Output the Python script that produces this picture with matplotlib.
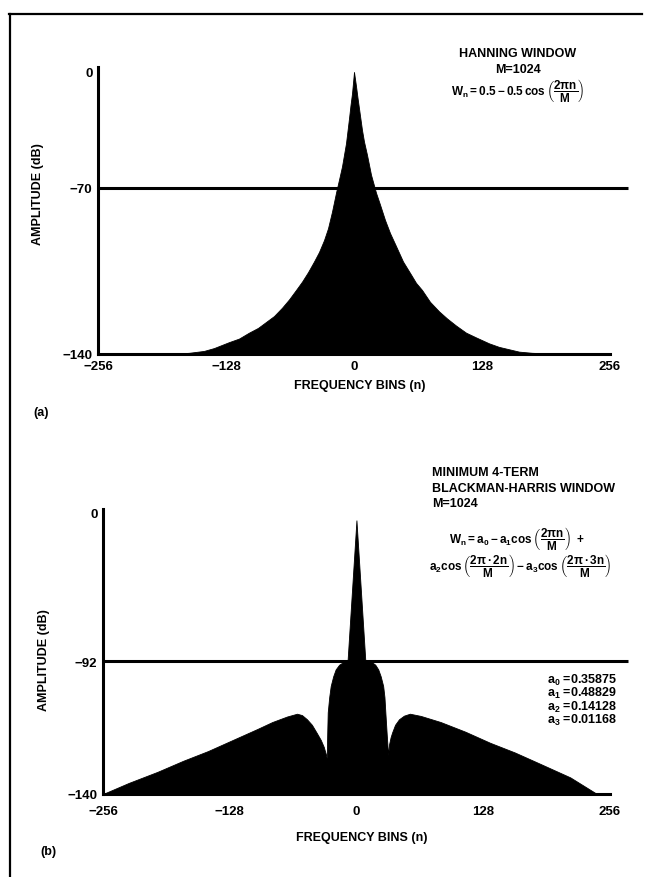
import numpy as np
import matplotlib
matplotlib.use("Agg")
import matplotlib.pyplot as plt
from matplotlib.lines import Line2D
from matplotlib.scale import FuncScale

# ---------------- data ----------------
hann_bins = [-256, -185, -165, -150, -140, -125, -115, -105, -96, -88, -80, -72, -65, -58,
             -52, -46, -40, -35, -30, -26, -22, -18, -15, -12, -10, -8, -5, -3.5, -2, 0,
             2, 3.5, 5, 8, 10, 13, 17, 22, 26, 31, 36, 42, 49, 57, 62, 68, 76, 85, 93,
             102, 112, 122, 135, 145, 155, 165, 178, 210, 256]
hann_db = [-140, -140, -139.5, -138.7, -137.5, -135, -133.5, -131, -129, -126.5, -124, -120.5, -117, -113,
           -109.5, -105.5, -101, -97, -92, -87, -80, -72, -65, -57, -50, -43, -28, -20, -13, 0,
           -8.5, -15.5, -22, -35, -42, -50, -62, -72, -77, -83.5, -89, -94.5, -101, -106.5, -110, -113, -118, -122, -125,
           -128, -131, -133, -135.5, -137, -138, -139, -139.5, -140, -140]
hann_threshold = -70

bh_bins = [-256, -230, -201, -175, -150, -125, -100, -85, -70, -60, -55, -50, -45, -40, -36, -33, -31, -30,
           -29.5, -29, -27.5, -26, -23.5, -21, -17.5, -14, -9,
           0,
           9, 16, 19, 22, 24.5, 27, 28.3, 29.2, 30.5, 32,
           33, 34.5, 36, 39, 43, 48, 54, 65, 85, 110, 135, 160, 185, 216, 243, 256]
bh_db = [-140, -136, -132, -128, -124.5, -120.5, -116.5, -114, -112, -111, -111.5, -113, -115, -118, -120.5, -123, -125.5, -127,
         -118, -110.5, -105, -101, -97.5, -95, -93.3, -92.5, -92,
         -5,
         -92, -92.5, -93.3, -95, -97.5, -101, -105, -110.5, -118, -126,
         -122, -119.5, -117.8, -115, -113, -111.7, -111, -111.8, -114, -117.5, -121.5, -125, -129, -134, -140, -140]
bh_threshold = -92

x_ticks = [-256, -128, 0, 128, 256]
x_tick_labels = ["\u2212256", "\u2212128", "0", "128", "256"]
hann_yticks = [0, -70, -140]
hann_ytick_labels = ["0", "\u221270", "\u2212140"]
bh_yticks = [0, -92, -140]
bh_ytick_labels = ["0", "\u221292", "\u2212140"]

coef_names = ["a_0", "a_1", "a_2", "a_3"]
coef_values = ["0.35875", "0.48829", "0.14128", "0.01168"]

# ---------------- style ----------------
plt.rcParams['font.family'] = ['Liberation Sans', 'DejaVu Sans']
plt.rcParams['font.weight'] = 'bold'
plt.rcParams['mathtext.fontset'] = 'custom'
plt.rcParams['mathtext.rm'] = 'Liberation Sans:bold'
plt.rcParams['mathtext.it'] = 'Liberation Sans:bold'
plt.rcParams['mathtext.bf'] = 'Liberation Sans:bold'
plt.rcParams['mathtext.sf'] = 'Liberation Sans:bold'
plt.rcParams['mathtext.default'] = 'rm'

W, H = 652, 878
fig = plt.figure(figsize=(W / 100, H / 100), dpi=100)
fig.patch.set_facecolor('white')


def fx(x):
    return x / W


def fy(y):
    return 1 - y / H


def piecewise_scale(knots_db, knots_u):
    kd = np.asarray(knots_db, float)
    ku = np.asarray(knots_u, float)
    s0 = (ku[1] - ku[0]) / (kd[1] - kd[0])
    s1 = (ku[-1] - ku[-2]) / (kd[-1] - kd[-2])

    def fwd(v):
        v = np.asarray(v, float)
        out = np.interp(v, kd, ku)
        out = np.where(v < kd[0], ku[0] + (v - kd[0]) * s0, out)
        out = np.where(v > kd[-1], ku[-1] + (v - kd[-1]) * s1, out)
        return out

    def inv(u):
        u = np.asarray(u, float)
        out = np.interp(u, ku, kd)
        out = np.where(u < ku[0], kd[0] + (u - ku[0]) / s0, out)
        out = np.where(u > ku[-1], kd[-1] + (u - ku[-1]) / s1, out)
        return out

    return fwd, inv


def make_panel(left_px, top_px, bottom_px, px_per_bin, bins, db, thr,
               yticks, ylabels, knots_db, knots_u, ytop, xpad):
    width_px = px_per_bin * (280 + 256)
    ax = fig.add_axes([fx(left_px), fy(bottom_px), width_px / W, (bottom_px - top_px) / H])
    fwd, inv = piecewise_scale(knots_db, knots_u)
    ax.set_yscale(FuncScale(ax, (fwd, inv)))
    ax.set_xlim(-256, 280)
    ax.set_ylim(-140, ytop)
    ax.fill_between(bins, db, -140, color='black', linewidth=0.6, edgecolor='black')
    ax.plot([-256, 274], [thr, thr], color='black', lw=2.2, solid_capstyle='butt')
    for s in ['top', 'right']:
        ax.spines[s].set_visible(False)
    for s in ['left', 'bottom']:
        ax.spines[s].set_linewidth(2.2)
        ax.spines[s].set_color('black')
    ax.spines['bottom'].set_bounds(-256, 256)
    ax.set_xticks(x_ticks, x_tick_labels)
    ax.set_yticks(yticks, ylabels)
    ax.minorticks_off()
    ax.tick_params(length=0, labelsize=9.5, pad=4)
    ax.tick_params(axis='x', pad=xpad)
    for lab in ax.get_xticklabels() + ax.get_yticklabels():
        lab.set_fontweight('bold')
    ax.set_facecolor('none')
    return ax


# panel (a): Hanning
make_panel(98, 68, 355, 1.0, hann_bins, hann_db, hann_threshold,
           hann_yticks, hann_ytick_labels, [-140, -70, 0], [0, 166, 282], 3, 4)
# panel (b): Blackman-Harris
make_panel(103, 510, 795, 0.99, bh_bins, bh_db, bh_threshold,
           bh_yticks, bh_ytick_labels, [-140, -92, 0], [0, 133, 282], 2, 8)

tk = dict(fontweight='bold', color='black')

# axis labels
fig.text(fx(38), fy(194), "AMPLITUDE (dB)", rotation=90, ha='center', va='center', fontsize=9, **tk)
fig.text(fx(44), fy(660), "AMPLITUDE (dB)", rotation=90, ha='center', va='center', fontsize=9, **tk)
fig.text(fx(360), fy(386), "FREQUENCY BINS (n)", ha='center', va='center', fontsize=9, **tk)
fig.text(fx(362), fy(838), "FREQUENCY BINS (n)", ha='center', va='center', fontsize=9, **tk)

# panel labels
fig.text(fx(33), fy(413), "(a)", ha='left', va='center', fontsize=9, **tk)
fig.text(fx(40), fy(852), "(b)", ha='left', va='center', fontsize=9, **tk)

# annotation panel (a)
fig.text(fx(518), fy(54), "HANNING WINDOW", ha='center', va='center', fontsize=9, **tk)
fig.text(fx(518), fy(70), "M=1024", ha='center', va='center', fontsize=9, **tk)
fig.text(fx(518), fy(91), r"$W_n = 0.5 - 0.5\,\mathrm{cos}\,\left(\dfrac{2\pi n}{M}\right)$",
         ha='center', va='center', fontsize=8.5, **tk)

# annotation panel (b)
fig.text(fx(432), fy(473), "MINIMUM 4-TERM", ha='left', va='center', fontsize=9, **tk)
fig.text(fx(432), fy(489), "BLACKMAN-HARRIS WINDOW", ha='left', va='center', fontsize=9, **tk)
fig.text(fx(432), fy(504), "M=1024", ha='left', va='center', fontsize=9, **tk)
fig.text(fx(517), fy(540),
         r"$W_n = a_0 - a_1\mathrm{cos}\,\left(\dfrac{2\pi n}{M}\right)\ +$",
         ha='center', va='center', fontsize=8.5, **tk)
fig.text(fx(520), fy(567),
         r"$a_2\mathrm{cos}\,\left(\dfrac{2\pi\bullet 2n}{M}\right) - a_3\mathrm{cos}\,\left(\dfrac{2\pi\bullet 3n}{M}\right)$",
         ha='center', va='center', fontsize=8.5, **tk)

for i, (nm, val) in enumerate(zip(coef_names, coef_values)):
    fig.text(fx(547), fy(680 + i * 13.5), r"$%s$ =%s" % (nm, val), ha='left', va='center',
             fontsize=9, **tk)

# page frame
fig.add_artist(Line2D([fx(10), fx(10)], [fy(15), fy(878)], color='black', lw=1.6))
fig.add_artist(Line2D([fx(9), fx(642)], [fy(15), fy(15)], color='black', lw=1.6))

fig.savefig("out.png", dpi=100)
